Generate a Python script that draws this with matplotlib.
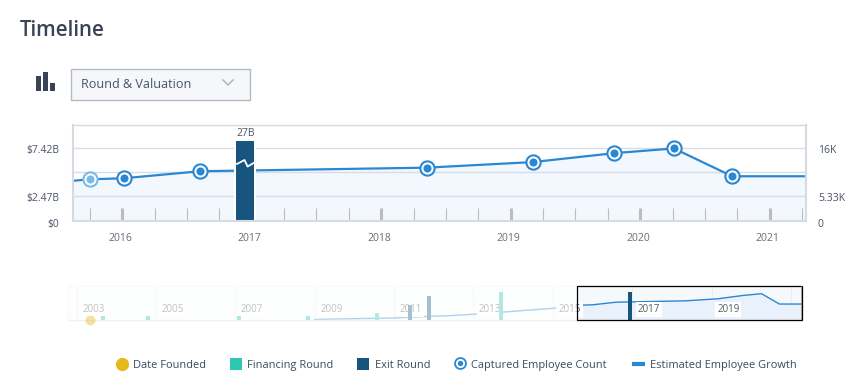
import numpy as np
import matplotlib
matplotlib.use('Agg')
from matplotlib import pyplot as plt
from matplotlib import patheffects as pe
from matplotlib.patches import Rectangle
from matplotlib.ticker import MultipleLocator, FixedLocator, FixedFormatter
from matplotlib.transforms import ScaledTranslation

plt.rcParams['font.family'] = ['Open Sans', 'DejaVu Sans']

# captured employee counts (year, thousands)
captured_years = [2015.75, 2016.01, 2016.6, 2018.35, 2019.17, 2019.8, 2020.26, 2020.71]
captured_emp = [9.1, 9.33, 10.9, 11.7, 12.95, 14.95, 16.0, 9.78]
# estimated growth before the captured points and after them
early_years = [2009, 2011, 2011.88, 2012.4, 2013, 2015]
early_emp = [0.5, 1.4, 2.4, 2.8, 3.6, 7.2]
late_years = [2021.5]
late_emp = [9.78]

exit_year = 2016.95
exit_label = '27B'
exit_drawn = 8.2  # bar is cut, it does not go up to 27B

left_ticks = [0, 2.47, 7.42]
left_labels = ['$0', '$2.47B', '$7.42B']
right_ticks = [0, 5.33, 16]
right_labels = ['0', '5.33K', '16K']
grid_vals = [2.47, 4.95, 7.42]
main_years = [2016, 2017, 2018, 2019, 2020, 2021]

mini_years = [2003, 2005, 2007, 2009, 2011, 2013, 2015, 2017, 2019, 2021]
mini_labels = [2003, 2005, 2007, 2009, 2011, 2013, 2015, 2017, 2019]
founded_year = 2003.33
fin_years = [2003.66, 2004.8, 2007.09, 2008.83, 2010.57, 2013.7]
fin_heights = [2.4, 2.4, 2.4, 2.4, 4.2, 17.3]
old_exit_years = [2011.4, 2011.88]
old_exit_heights = [9.0, 14.5]

legend_labels = ['Date Founded', 'Financing Round', 'Exit Round',
                 'Captured Employee Count', 'Estimated Employee Growth']

BLUE = '#2b87d1'
DARK = '#17557f'
TEAL = '#2ec7b3'
GOLD = '#e5b81c'
BORDER = '#d5dae3'
TXT = '#4a5568'

W, H = 865, 391
EMP_TO_B = 7.42 / 16

fig = plt.figure(figsize=(W / 100, H / 100), dpi=100)


def px_axes(l, t, r, b):
    return fig.add_axes([l / W, 1 - b / H, (r - l) / W, (b - t) / H])


def px_shift(x, y):
    return ScaledTranslation(x / 100, y / 100, fig.dpi_scale_trans)


# ---- main chart
ax = px_axes(73, 125, 806, 221)
xlim = (2015.62, 2021.28)
ax.set_xlim(xlim)
ax.set_ylim(-0.104, 9.85)

all_years = early_years + captured_years + late_years
all_emp = np.array(early_emp + captured_emp + late_emp)

ax.fill_between(all_years, all_emp * EMP_TO_B, color='#f3f8fe', lw=0, zorder=1)
for g in grid_vals:
    ax.axhline(g, color='#d5dde8', lw=1, zorder=1.2)
ax.plot(all_years, all_emp * EMP_TO_B, color=BLUE, lw=1.6, zorder=1.5)

cap = np.array(captured_emp) * EMP_TO_B
ax.scatter(captured_years[1:], cap[1:], s=105, facecolor='white', edgecolor=BLUE, lw=1.5, zorder=3.2)
ax.scatter(captured_years[1:], cap[1:], s=34, color=BLUE, lw=0, zorder=3.3)
ax.scatter(captured_years[:1], cap[:1], s=105, facecolor='white', edgecolor='#78bbe9', lw=1.5, zorder=3.2)
ax.scatter(captured_years[:1], cap[:1], s=34, color='#78bbe9', lw=0, zorder=3.3)

bw = 18 / 129.6
ax.bar([exit_year], [exit_drawn], width=bw, color=DARK, lw=0, zorder=2,
       path_effects=[pe.withStroke(linewidth=2.9, foreground='white')])
# white zigzag marks the cut in the bar
ax.plot(exit_year + np.array([-0.5, -0.04, 0.13, 0.5]) * bw,
        [5.77, 6.22, 5.54, 5.95], color='white', lw=1.3, zorder=2.2, solid_capstyle='butt')
ax.text(exit_year, 8.35, exit_label, ha='center', va='bottom', fontsize=7.5, color=TXT)

for s in ax.spines.values():
    s.set_color(BORDER)
    s.set_zorder(2.5)
ax.spines['top'].set_linewidth(1)
ax.spines['left'].set_linewidth(1.5)
ax.spines['bottom'].set_linewidth(1.5)
ax.spines['right'].set_linewidth(1.5)

ax.xaxis.set_major_locator(FixedLocator(main_years))
ax.xaxis.set_major_formatter(FixedFormatter([str(y) for y in main_years]))
ax.xaxis.set_minor_locator(MultipleLocator(0.25))
ax.tick_params(axis='x', which='major', direction='in', length=9.5, width=2.2, color='#bdbdbd',
               labelsize=7.5, labelcolor='#666e78', pad=9)
ax.tick_params(axis='x', which='minor', direction='in', length=9.5, width=0.8, color='#bdbdbd')
for lab in ax.get_xticklabels():
    lab.set_transform(lab.get_transform() + px_shift(-2, 0))

ax.set_yticks(left_ticks)
ax.set_yticklabels(left_labels)
ax.tick_params(axis='y', length=0, labelsize=7.5, labelcolor=TXT, pad=10)
for i, lab in enumerate(ax.get_yticklabels()):
    lab.set_transform(lab.get_transform() + px_shift(0, -3 if i == 0 else -1))

right = ax.secondary_yaxis('right', functions=(lambda v: v / EMP_TO_B, lambda v: v * EMP_TO_B))
right.set_yticks(right_ticks)
right.set_yticklabels(right_labels)
right.spines['right'].set_visible(False)
right.tick_params(axis='y', length=0, labelsize=7.5, labelcolor=TXT, pad=8.5)
for i, lab in enumerate(right.get_yticklabels()):
    lab.set_transform(lab.get_transform() + px_shift(0, -3 if i == 0 else -1))

# ---- navigator under the chart
mini = px_axes(68.3, 285.7, 802, 320.3)
mini.set_xlim(2002.79, xlim[1])
mini.set_ylim(0, 20.8)
mini.set_facecolor('#fbfdfd')
mini.set_xticks([])
mini.set_yticks([])
for s in mini.spines.values():
    s.set_color('#eff1f2')
    s.set_linewidth(1)

for y in mini_years:
    mini.axvline(y, color='#eceeef', lw=0.8, zorder=1)
mini.axvspan(xlim[0], xlim[1], color='#eaf2fb', alpha=0.3, lw=0, zorder=0.5)
mini.fill_between(all_years, all_emp, where=np.array(all_years) >= xlim[0], interpolate=True,
                  color='#e9f2fc', lw=0, zorder=1.1)
mini.plot(all_years, all_emp, color=BLUE, lw=1.0, zorder=1.5)
for y in mini_labels:
    mini.text(y + 0.14, 6.4, str(y), fontsize=7, color='#555b63', va='center', zorder=2,
              bbox=dict(facecolor='white', edgecolor='none', pad=1.5))
mini.bar(fin_years, fin_heights, width=0.1, color=TEAL, lw=0, zorder=3)
mini.bar(old_exit_years, old_exit_heights, width=0.1, color=DARK, lw=0, zorder=3)
mini.bar([exit_year], [17.3], width=0.1, color=DARK, lw=0, zorder=6)
# everything outside the selected range is washed out
mini.axvspan(2002.79, xlim[0], color='white', alpha=0.62, lw=0, zorder=5)
mini.scatter([founded_year], [0], s=52, color=GOLD, alpha=0.4, lw=0, clip_on=False, zorder=6)
mini.add_patch(Rectangle((xlim[0], 0), xlim[1] - xlim[0], 20.8, fill=False, ec='black', lw=0.9,
                         zorder=7, clip_on=False))
mini.axvline(xlim[1], color='#8c8c8c', lw=1.1, zorder=8)

# ---- page parts drawn in pixel coordinates
page = fig.add_axes([0, 0, 1, 1], zorder=-1)
page.set_xlim(0, W)
page.set_ylim(H, 0)
page.axis('off')

page.text(20, 36.5, 'Timeline', fontsize=14.8, color='#3a4456', weight='semibold', va='baseline')

page.add_patch(Rectangle((36, 76), 4.5, 15, color='#3a4255', lw=0))
page.add_patch(Rectangle((43, 72), 5, 19, color='#3a4255', lw=0))
page.add_patch(Rectangle((50, 83), 5, 8, color='#3a4255', lw=0))

page.add_patch(Rectangle((71, 68.5), 179, 31, fc='#f5f7fa', ec='#b5bac2', lw=1))
page.text(81, 88, 'Round & Valuation', fontsize=9.1, color='#45566b', va='baseline')
page.plot([223, 228, 233], [80, 85, 80], color='#b0b7c0', lw=1.1)

leg_y = 364
page.scatter([122], [leg_y], s=90, color=GOLD, lw=0)
page.add_patch(Rectangle((230, leg_y - 6), 12, 12, color=TEAL, lw=0))
page.add_patch(Rectangle((357, leg_y - 6), 12, 12, color=DARK, lw=0))
page.scatter([460], [leg_y - 1], s=62, facecolor='white', edgecolor=BLUE, lw=1.3)
page.scatter([460], [leg_y - 1], s=15, color=BLUE, lw=0)
page.plot([632, 645], [leg_y, leg_y], color=BLUE, lw=3, solid_capstyle='butt')
for x, t in zip([133, 247, 375, 471, 650], legend_labels):
    page.text(x, leg_y + 4, t, fontsize=7.9, color='#3a4a5c', va='baseline')

plt.savefig('out.png', dpi=100)
